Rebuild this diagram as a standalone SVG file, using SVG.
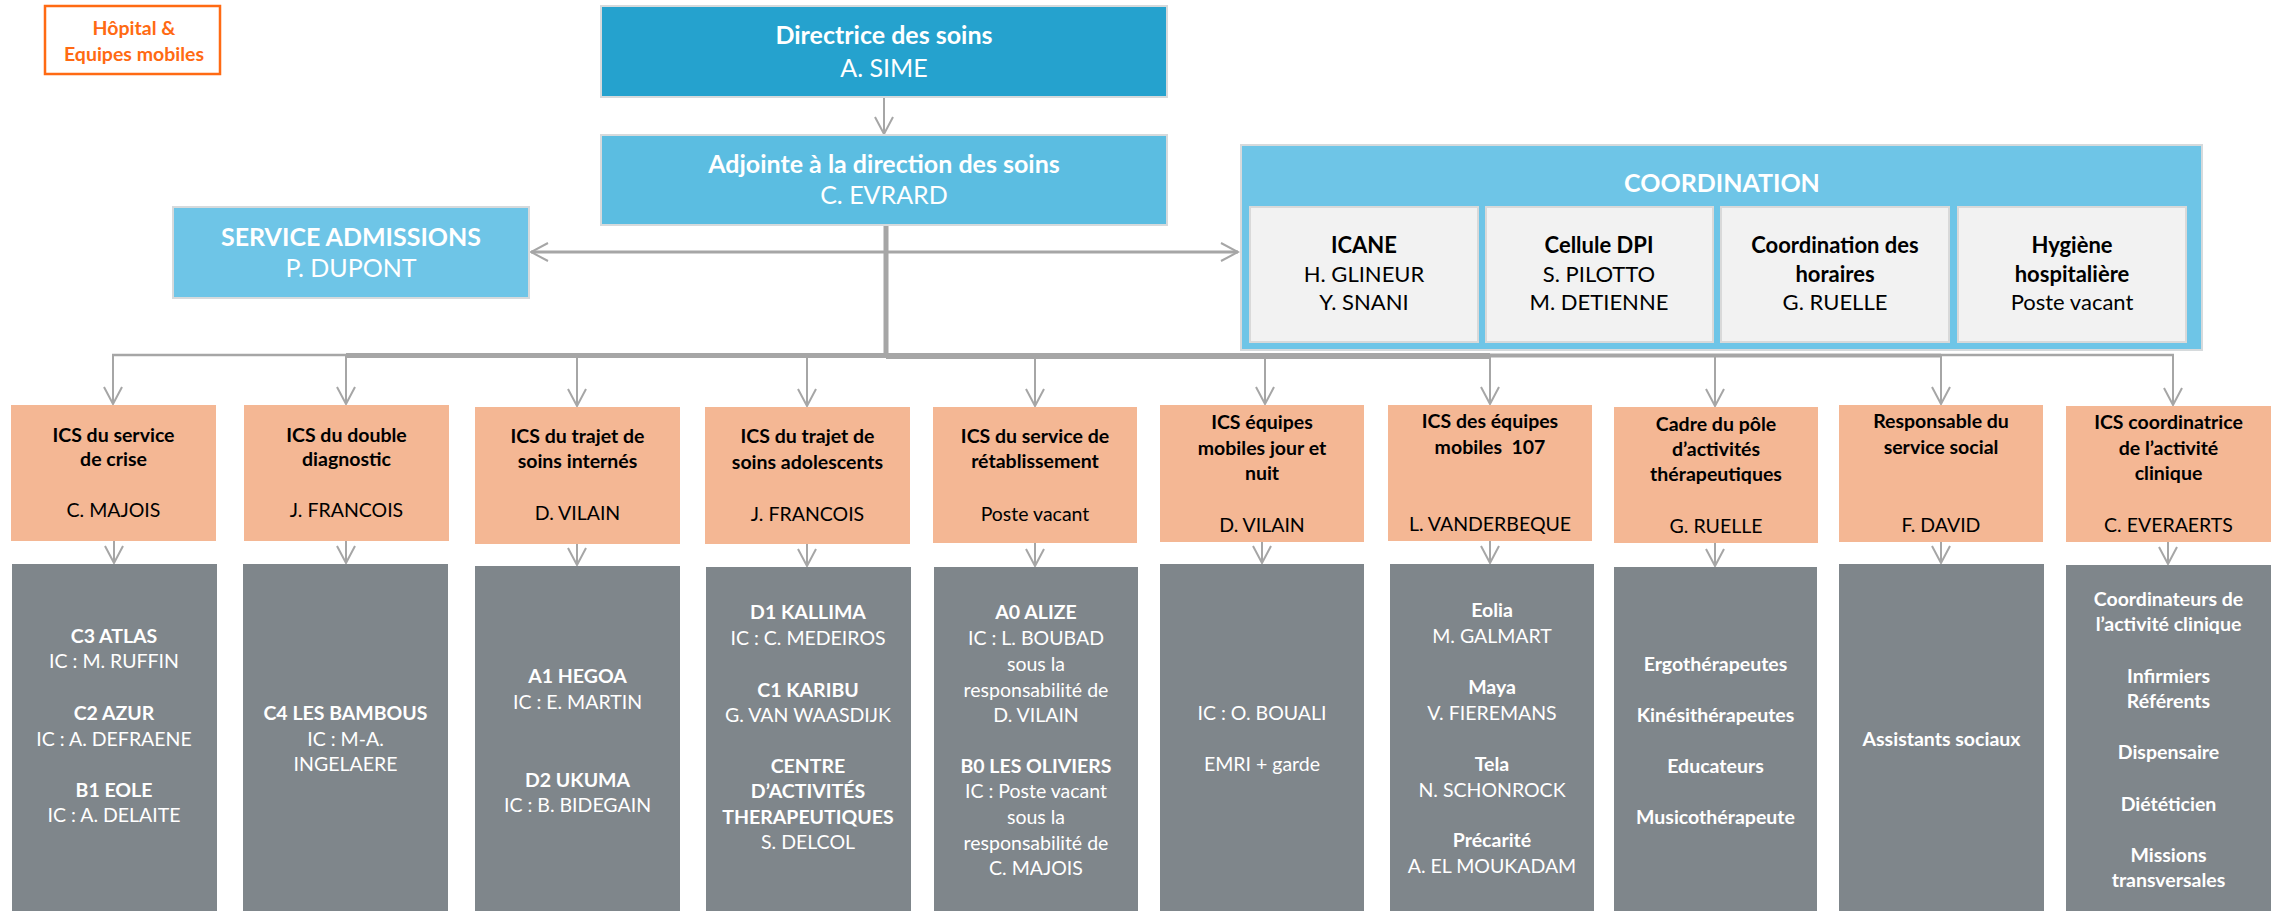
<svg xmlns="http://www.w3.org/2000/svg" width="2277" height="911" viewBox="0 0 2277 911">
<defs>
<style>
.t{font-family:Lato,"Liberation Sans",sans-serif;text-anchor:middle}
.b{font-weight:700}
.w{fill:#ffffff}
.k{fill:#000000}
.f25{font-size:25px}
.f22{font-size:22px}
.f19{font-size:19.5px}
.top{fill:#25A2CE;stroke:#D6DADC;stroke-width:2}
.adj{fill:#5BBDE1;stroke:#D6DADC;stroke-width:2}
.lb{fill:#6EC5E7;stroke:#D6DADC;stroke-width:2}
.sub{fill:#F2F2F2;stroke:#D9D9D9;stroke-width:2}
.or{fill:#F4B794}
.gr{fill:#7F868B}
.c{stroke:#A6A6A6;fill:none}
</style>
<marker id="ah" viewBox="0 0 20 20" refX="18" refY="10" markerWidth="20" markerHeight="20" markerUnits="userSpaceOnUse" orient="auto">
<path d="M1,1 L18,10 L1,19" fill="none" stroke="#A6A6A6" stroke-width="2"/>
</marker>
</defs>
<rect width="2277" height="911" fill="#ffffff"/>

<g id="hopital">
<rect x="45" y="6" width="175" height="68" fill="#ffffff" stroke="#FF6A13" stroke-width="2.5"/>
<text class="t b f19" fill="#FF6A13" x="134" y="35">Hôpital &amp;</text>
<text class="t b f19" fill="#FF6A13" x="134" y="61">Equipes mobiles</text>
</g>

<g id="connectors">
<line class="c" x1="884" y1="97" x2="884" y2="134" stroke-width="2" marker-end="url(#ah)"/>
<line class="c" x1="886" y1="225" x2="886" y2="358" stroke-width="5"/>
<line class="c" x1="886" y1="252" x2="531" y2="252" stroke-width="3" marker-end="url(#ah)"/>
<line class="c" x1="886" y1="252" x2="1238" y2="252" stroke-width="3" marker-end="url(#ah)"/>
<line class="c" x1="112" y1="355" x2="346" y2="355" stroke-width="2.5"/>
<line class="c" x1="346" y1="355.5" x2="886" y2="355.5" stroke-width="5"/>
<line class="c" x1="886" y1="356" x2="1490" y2="356" stroke-width="6"/>
<line class="c" x1="1490" y1="355.5" x2="1941" y2="355.5" stroke-width="4"/>
<line class="c" x1="1941" y1="355" x2="2174" y2="355" stroke-width="2.5"/>
<line class="c" x1="113" y1="355" x2="113" y2="404" stroke-width="2" marker-end="url(#ah)"/>
<line class="c" x1="346" y1="355" x2="346" y2="404" stroke-width="2" marker-end="url(#ah)"/>
<line class="c" x1="577" y1="355" x2="577" y2="406" stroke-width="2" marker-end="url(#ah)"/>
<line class="c" x1="807" y1="355" x2="807" y2="406" stroke-width="2" marker-end="url(#ah)"/>
<line class="c" x1="1035" y1="355" x2="1035" y2="406" stroke-width="2" marker-end="url(#ah)"/>
<line class="c" x1="1265" y1="355" x2="1265" y2="404" stroke-width="2" marker-end="url(#ah)"/>
<line class="c" x1="1490" y1="355" x2="1490" y2="404" stroke-width="2" marker-end="url(#ah)"/>
<line class="c" x1="1715" y1="355" x2="1715" y2="406" stroke-width="2" marker-end="url(#ah)"/>
<line class="c" x1="1941" y1="355" x2="1941" y2="404" stroke-width="2" marker-end="url(#ah)"/>
<line class="c" x1="2173" y1="355" x2="2173" y2="405" stroke-width="2" marker-end="url(#ah)"/>
<line class="c" x1="114" y1="541" x2="114" y2="563" stroke-width="2" marker-end="url(#ah)"/>
<line class="c" x1="346" y1="541" x2="346" y2="563" stroke-width="2" marker-end="url(#ah)"/>
<line class="c" x1="577" y1="544" x2="577" y2="565" stroke-width="2" marker-end="url(#ah)"/>
<line class="c" x1="807" y1="544" x2="807" y2="566" stroke-width="2" marker-end="url(#ah)"/>
<line class="c" x1="1035" y1="543" x2="1035" y2="566" stroke-width="2" marker-end="url(#ah)"/>
<line class="c" x1="1262" y1="542" x2="1262" y2="563" stroke-width="2" marker-end="url(#ah)"/>
<line class="c" x1="1490" y1="541" x2="1490" y2="563" stroke-width="2" marker-end="url(#ah)"/>
<line class="c" x1="1715" y1="543" x2="1715" y2="566" stroke-width="2" marker-end="url(#ah)"/>
<line class="c" x1="1941" y1="542" x2="1941" y2="563" stroke-width="2" marker-end="url(#ah)"/>
<line class="c" x1="2168" y1="542" x2="2168" y2="564" stroke-width="2" marker-end="url(#ah)"/>
</g>

<g id="directrice">
<rect class="top" x="601" y="6" width="566" height="91"/>
<text class="t b w f25" x="884" y="44">Directrice des soins</text>
<text class="t w f25" x="884" y="77">A. SIME</text>
</g>

<g id="adjointe">
<rect class="adj" x="601" y="135" width="566" height="90"/>
<text class="t b w f25" x="884" y="173">Adjointe à la direction des soins</text>
<text class="t w f25" x="884" y="204">C. EVRARD</text>
</g>

<g id="admissions">
<rect class="lb" x="173" y="207" width="356" height="91"/>
<text class="t b w f25" x="351" y="246">SERVICE ADMISSIONS</text>
<text class="t w f25" x="351" y="277">P. DUPONT</text>
</g>

<g id="coordination">
<rect class="lb" x="1241" y="145" width="961" height="205"/>
<text class="t b w f25" x="1722" y="192">COORDINATION</text>
<g id="icane">
<rect class="sub" x="1250" y="207" width="228" height="135"/>
<text class="t b k f22" x="1364" y="253">ICANE</text>
<text class="t k f22" x="1364" y="282">H. GLINEUR</text>
<text class="t k f22" x="1364" y="310">Y. SNANI</text>
</g>
<g id="dpi">
<rect class="sub" x="1486" y="207" width="227" height="135"/>
<text class="t b k f22" x="1599" y="253">Cellule DPI</text>
<text class="t k f22" x="1599" y="282">S. PILOTTO</text>
<text class="t k f22" x="1599" y="310">M. DETIENNE</text>
</g>
<g id="horaires">
<rect class="sub" x="1721" y="207" width="228" height="135"/>
<text class="t b k f22" x="1835" y="253">Coordination des</text>
<text class="t b k f22" x="1835" y="282">horaires</text>
<text class="t k f22" x="1835" y="310">G. RUELLE</text>
</g>
<g id="hygiene">
<rect class="sub" x="1958" y="207" width="228" height="135"/>
<text class="t b k f22" x="2072" y="253">Hygiène</text>
<text class="t b k f22" x="2072" y="282">hospitalière</text>
<text class="t k f22" x="2072" y="310">Poste vacant</text>
</g>
</g>

<g id="ics1">
<rect class="or" x="11" y="405" width="205" height="136"/>
<text class="t b k f19" x="113.5" y="442">ICS du service</text>
<text class="t b k f19" x="113.5" y="466">de crise</text>
<text class="t k f19" x="113.5" y="517">C. MAJOIS</text>
</g>
<g id="ics2">
<rect class="or" x="244" y="405" width="205" height="136"/>
<text class="t b k f19" x="346.5" y="442">ICS du double</text>
<text class="t b k f19" x="346.5" y="466">diagnostic</text>
<text class="t k f19" x="346.5" y="517">J. FRANCOIS</text>
</g>
<g id="ics3">
<rect class="or" x="475" y="407" width="205" height="137"/>
<text class="t b k f19" x="577.5" y="443">ICS du trajet de</text>
<text class="t b k f19" x="577.5" y="468">soins internés</text>
<text class="t k f19" x="577.5" y="520">D. VILAIN</text>
</g>
<g id="ics4">
<rect class="or" x="705" y="407" width="205" height="137"/>
<text class="t b k f19" x="807.5" y="443">ICS du trajet de</text>
<text class="t b k f19" x="807.5" y="469">soins adolescents</text>
<text class="t k f19" x="807.5" y="521">J. FRANCOIS</text>
</g>
<g id="ics5">
<rect class="or" x="933" y="407" width="204" height="136"/>
<text class="t b k f19" x="1035" y="443">ICS du service de</text>
<text class="t b k f19" x="1035" y="468">rétablissement</text>
<text class="t k f19" x="1035" y="521">Poste vacant</text>
</g>
<g id="ics6">
<rect class="or" x="1160" y="405" width="204" height="137"/>
<text class="t b k f19" x="1262" y="429">ICS équipes</text>
<text class="t b k f19" x="1262" y="455">mobiles jour et</text>
<text class="t b k f19" x="1262" y="480">nuit</text>
<text class="t k f19" x="1262" y="532">D. VILAIN</text>
</g>
<g id="ics7">
<rect class="or" x="1388" y="405" width="204" height="136"/>
<text class="t b k f19" x="1490" y="428">ICS des équipes</text>
<text class="t b k f19" x="1490" y="454">mobiles&#160; 107</text>
<text class="t k f19" x="1490" y="531">L. VANDERBEQUE</text>
</g>
<g id="cadre8">
<rect class="or" x="1614" y="407" width="204" height="136"/>
<text class="t b k f19" x="1716" y="431">Cadre du pôle</text>
<text class="t b k f19" x="1716" y="456">d’activités</text>
<text class="t b k f19" x="1716" y="481">thérapeutiques</text>
<text class="t k f19" x="1716" y="533">G. RUELLE</text>
</g>
<g id="resp9">
<rect class="or" x="1839" y="405" width="204" height="137"/>
<text class="t b k f19" x="1941" y="428">Responsable du</text>
<text class="t b k f19" x="1941" y="454">service social</text>
<text class="t k f19" x="1941" y="532">F. DAVID</text>
</g>
<g id="ics10">
<rect class="or" x="2066" y="406" width="205" height="136"/>
<text class="t b k f19" x="2168.5" y="429">ICS coordinatrice</text>
<text class="t b k f19" x="2168.5" y="455">de l’activité</text>
<text class="t b k f19" x="2168.5" y="480">clinique</text>
<text class="t k f19" x="2168.5" y="532">C. EVERAERTS</text>
</g>

<g id="unit1">
<rect class="gr" x="12" y="564" width="205" height="348"/>
<text class="t b w f19" x="114" y="643">C3 ATLAS</text>
<text class="t w f19" x="114" y="668">IC : M. RUFFIN</text>
<text class="t b w f19" x="114" y="720">C2 AZUR</text>
<text class="t w f19" x="114" y="746">IC : A. DEFRAENE</text>
<text class="t b w f19" x="114" y="797">B1 EOLE</text>
<text class="t w f19" x="114" y="822">IC : A. DELAITE</text>
</g>
<g id="unit2">
<rect class="gr" x="243" y="564" width="205" height="348"/>
<text class="t b w f19" x="345.5" y="720">C4 LES BAMBOUS</text>
<text class="t w f19" x="345.5" y="746">IC : M-A.</text>
<text class="t w f19" x="345.5" y="771">INGELAERE</text>
</g>
<g id="unit3">
<rect class="gr" x="475" y="566" width="205" height="346"/>
<text class="t b w f19" x="577.5" y="683">A1 HEGOA</text>
<text class="t w f19" x="577.5" y="709">IC : E. MARTIN</text>
<text class="t b w f19" x="577.5" y="787">D2 UKUMA</text>
<text class="t w f19" x="577.5" y="812">IC : B. BIDEGAIN</text>
</g>
<g id="unit4">
<rect class="gr" x="706" y="567" width="205" height="345"/>
<text class="t b w f19" x="808" y="619">D1 KALLIMA</text>
<text class="t w f19" x="808" y="645">IC : C. MEDEIROS</text>
<text class="t b w f19" x="808" y="697">C1 KARIBU</text>
<text class="t w f19" x="808" y="722">G. VAN WAASDIJK</text>
<text class="t b w f19" x="808" y="773">CENTRE</text>
<text class="t b w f19" x="808" y="798">D’ACTIVITÉS</text>
<text class="t b w f19" x="808" y="824">THERAPEUTIQUES</text>
<text class="t w f19" x="808" y="849">S. DELCOL</text>
</g>
<g id="unit5">
<rect class="gr" x="934" y="567" width="204" height="345"/>
<text class="t b w f19" x="1036" y="619">A0 ALIZE</text>
<text class="t w f19" x="1036" y="645">IC : L. BOUBAD</text>
<text class="t w f19" x="1036" y="671">sous la</text>
<text class="t w f19" x="1036" y="697">responsabilité de</text>
<text class="t w f19" x="1036" y="722">D. VILAIN</text>
<text class="t b w f19" x="1036" y="773">B0 LES OLIVIERS</text>
<text class="t w f19" x="1036" y="798">IC : Poste vacant</text>
<text class="t w f19" x="1036" y="824">sous la</text>
<text class="t w f19" x="1036" y="850">responsabilité de</text>
<text class="t w f19" x="1036" y="875">C. MAJOIS</text>
</g>
<g id="unit6">
<rect class="gr" x="1160" y="564" width="204" height="348"/>
<text class="t w f19" x="1262" y="720">IC : O. BOUALI</text>
<text class="t w f19" x="1262" y="771">EMRI + garde</text>
</g>
<g id="unit7">
<rect class="gr" x="1390" y="564" width="204" height="348"/>
<text class="t b w f19" x="1492" y="617">Eolia</text>
<text class="t w f19" x="1492" y="643">M. GALMART</text>
<text class="t b w f19" x="1492" y="694">Maya</text>
<text class="t w f19" x="1492" y="720">V. FIEREMANS</text>
<text class="t b w f19" x="1492" y="771">Tela</text>
<text class="t w f19" x="1492" y="797">N. SCHONROCK</text>
<text class="t b w f19" x="1492" y="847">Précarité</text>
<text class="t w f19" x="1492" y="873">A. EL MOUKADAM</text>
</g>
<g id="unit8">
<rect class="gr" x="1614" y="567" width="203" height="345"/>
<text class="t b w f19" x="1715.5" y="671">Ergothérapeutes</text>
<text class="t b w f19" x="1715.5" y="722">Kinésithérapeutes</text>
<text class="t b w f19" x="1715.5" y="773">Educateurs</text>
<text class="t b w f19" x="1715.5" y="824">Musicothérapeute</text>
</g>
<g id="unit9">
<rect class="gr" x="1839" y="564" width="205" height="348"/>
<text class="t b w f19" x="1941.5" y="746">Assistants sociaux</text>
</g>
<g id="unit10">
<rect class="gr" x="2066" y="565" width="205" height="347"/>
<text class="t b w f19" x="2168.5" y="606">Coordinateurs de</text>
<text class="t b w f19" x="2168.5" y="631">l’activité clinique</text>
<text class="t b w f19" x="2168.5" y="683">Infirmiers</text>
<text class="t b w f19" x="2168.5" y="708">Référents</text>
<text class="t b w f19" x="2168.5" y="759">Dispensaire</text>
<text class="t b w f19" x="2168.5" y="811">Diététicien</text>
<text class="t b w f19" x="2168.5" y="862">Missions</text>
<text class="t b w f19" x="2168.5" y="887">transversales</text>
</g>
</svg>
